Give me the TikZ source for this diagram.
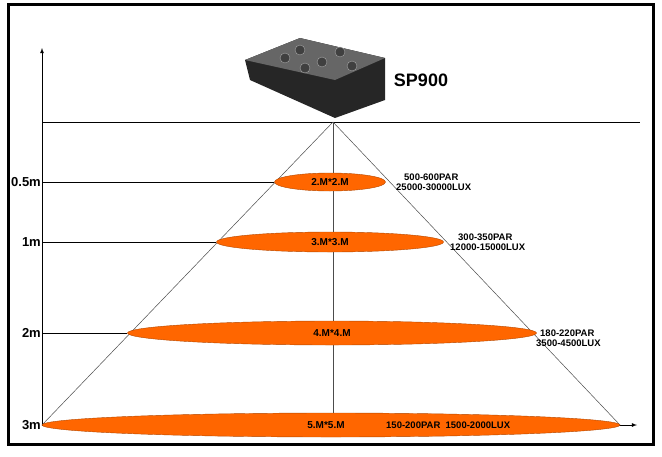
\documentclass[tikz,border=0pt]{standalone}
\usepackage{fontspec}
\setmainfont{Liberation Sans}
\usetikzlibrary{shapes.geometric,arrows,positioning}
\definecolor{spot}{RGB}{255,102,0}
\tikzset{
  spotlight/.style={ellipse, draw=spot!70!black, fill=spot, inner sep=0pt},
  spottext/.style={font=\bfseries\fontsize{10}{11}\selectfont},
  height/.style={font=\fontsize{13}{13}\selectfont\bfseries, inner sep=1pt, anchor=east},
  reading/.style={font=\bfseries\fontsize{9.5}{10.5}\selectfont, align=left, anchor=west, inner sep=0pt},
  beam/.style={draw, gray!60!black, line width=0.5pt}
}
\begin{document}
\begin{tikzpicture}[x=1pt,y=-1pt]
\useasboundingbox (0,0) rectangle (662,456);
\draw[line width=3pt] (8,4) rectangle (653,444);

\coordinate(origin) at (42,425);
\coordinate(top) at (42,48);
\coordinate(xend) at (637,425);
\coordinate(apex) at (333,122);
\coordinate(ceilend) at (640,122);
\coordinate(leftfoot) at (42,425);
\coordinate(rightfoot) at (620,425);
\coordinate(ceil) at (42,122);
\coordinate(floor) at (333,425);

% lamp
\fill[black!85] (245,60) -- (300,38) -- (385,58) -- (385,100) -- (335,118) -- (250,80) -- cycle;
\fill[black!60] (245,60) -- (300,38) -- (385,58) -- (335,80) -- cycle;
\foreach \cx/\cy in {285/58, 300/50, 322/62, 340/52, 352/66, 305/68}
  \draw[gray!70, fill=black!75] (\cx,\cy) circle (5);
\node(lampname)[font=\fontsize{18}{18}\selectfont\bfseries] at (421,80){SP900};

\draw[line width=0.8pt] (ceil) -- (ceilend);

% axes
\draw[-latex, line width=0.8pt] (origin) -- (top);
\draw[-latex, line width=0.8pt] (origin) -- (xend);

% cone
\draw[beam] (apex) -- (leftfoot);
\draw[beam] (apex) -- (rightfoot);
\draw[beam] (apex) -- (floor);

\node(s3)[spotlight, minimum width=578, minimum height=24] at (331,425){};
\node(s2)[spotlight, minimum width=409, minimum height=24] at (332,333){};
\node(s1)[spotlight, minimum width=227, minimum height=20] at (330,242){};
\node(s05)[spotlight, minimum width=111, minimum height=18] at (330,182){};

\node[spottext] at (s05){2.M*2.M};
\node[spottext] at (s1){3.M*3.M};
\node[spottext] at (s2){4.M*4.M};
\node[spottext] at (326,425){5.M*5.M};

\foreach \s in {s05, s1, s2}
  \draw[line width=0.8pt] (42,0 |- \s.west) -- (\s.west);

\node(h05)[height] at (42,182){0.5m};
\node(h1)[height] at (42,242){1m};
\node(h2)[height] at (42,333){2m};
\node(h3)[height] at (42,425){3m};

\node(r05)[reading] at (396,182){\hspace*{8pt}500-600PAR\\25000-30000LUX};
\node(r1)[reading] at (450,242){\hspace*{8pt}300-350PAR\\12000-15000LUX};
\node(r2)[reading] at (536,338){\hspace*{4pt}180-220PAR\\3500-4500LUX};
\node(r3)[reading] at (386,425){150-200PAR\ \ 1500-2000LUX};
\end{tikzpicture}
\end{document}
